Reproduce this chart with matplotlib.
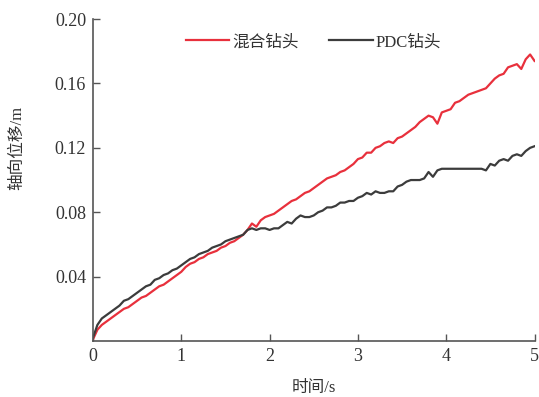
import matplotlib

matplotlib.use("Agg")
import matplotlib.pyplot as plt
import numpy as np


# Axial displacement (m), read every 0.05 s from the reference
TIME_STEP = 0.05
HYBRID_DISP = [
    0.001, 0.007, 0.010, 0.012, 0.014, 0.016, 0.018, 0.020, 0.021, 0.023,
    0.025, 0.027, 0.028, 0.030, 0.032, 0.034, 0.035, 0.037, 0.039, 0.041,
    0.043, 0.046, 0.048, 0.049, 0.051, 0.052, 0.054, 0.055, 0.056, 0.058,
    0.059, 0.061, 0.062, 0.064, 0.066, 0.069, 0.073, 0.071, 0.075, 0.077,
    0.078, 0.079, 0.081, 0.083, 0.085, 0.087, 0.088, 0.090, 0.092, 0.093,
    0.095, 0.097, 0.099, 0.101, 0.102, 0.103, 0.105, 0.106, 0.108, 0.110,
    0.113, 0.114, 0.117, 0.117, 0.120, 0.121, 0.123, 0.124, 0.123, 0.126,
    0.127, 0.129, 0.131, 0.133, 0.136, 0.138, 0.140, 0.139, 0.135, 0.142,
    0.143, 0.144, 0.148, 0.149, 0.151, 0.153, 0.154, 0.155, 0.156, 0.157,
    0.160, 0.163, 0.165, 0.166, 0.170, 0.171, 0.172, 0.169, 0.175, 0.178,
    0.174,
]
PDC_DISP = [
    0.002, 0.010, 0.014, 0.016, 0.018, 0.020, 0.022, 0.025, 0.026, 0.028,
    0.030, 0.032, 0.034, 0.035, 0.038, 0.039, 0.041, 0.042, 0.044, 0.045,
    0.047, 0.049, 0.051, 0.052, 0.054, 0.055, 0.056, 0.058, 0.059, 0.060,
    0.062, 0.063, 0.064, 0.065, 0.066, 0.069, 0.070, 0.069, 0.070, 0.070,
    0.069, 0.070, 0.070, 0.072, 0.074, 0.073, 0.076, 0.078, 0.077, 0.077,
    0.078, 0.080, 0.081, 0.083, 0.083, 0.084, 0.086, 0.086, 0.087, 0.087,
    0.089, 0.090, 0.092, 0.091, 0.093, 0.092, 0.092, 0.093, 0.093, 0.096,
    0.097, 0.099, 0.100, 0.100, 0.100, 0.101, 0.105, 0.102, 0.106, 0.107,
    0.107, 0.107, 0.107, 0.107, 0.107, 0.107, 0.107, 0.107, 0.107, 0.106,
    0.110, 0.109, 0.112, 0.113, 0.112, 0.115, 0.116, 0.115, 0.118, 0.120,
    0.121,
]
SERIES_LABELS = ["混合钻头", "PDC钻头"]
SERIES_COLORS = ["#e8303c", "#3c3c3c"]

X_TICKS = [0, 1, 2, 3, 4, 5]
Y_TICKS = [0.04, 0.08, 0.12, 0.16, 0.20]

plt.rcParams["font.family"] = ["Liberation Serif", "Noto Sans CJK SC"]
plt.rcParams["font.size"] = 12

fig = plt.figure(figsize=(5.39, 3.97), dpi=100)
ax = fig.add_axes([0.1725, 0.141, 0.8192, 0.811])

time = np.arange(len(HYBRID_DISP)) * TIME_STEP
for values, label, color in zip([HYBRID_DISP, PDC_DISP], SERIES_LABELS, SERIES_COLORS):
    ax.plot(time[: len(values)], values, color=color, lw=1.6, label=label)

ax.set_xlim(0, 5)
ax.set_ylim(0, 0.20)
ax.set_xticks(X_TICKS)
ax.set_yticks(Y_TICKS)
ax.set_xticklabels([str(t) for t in X_TICKS])
ax.set_yticklabels([f"{v:.2f}" for v in Y_TICKS])

for side in ["top", "right"]:
    ax.spines[side].set_visible(False)
for side in ["left", "bottom"]:
    ax.spines[side].set_color("#555555")
    ax.spines[side].set_linewidth(1.2)

ax.tick_params(direction="in", length=5, width=1, color="#555555",
               labelcolor="#333333", labelsize=13)
ax.tick_params(axis="x", pad=5)
ax.tick_params(axis="y", pad=5)

ax.set_xlabel("时间/s", color="#333333", fontsize=12, labelpad=11)
ax.set_ylabel("轴向位移/m", color="#333333", fontsize=12)
ax.yaxis.set_label_coords(-0.154, 0.60)

ax.legend(loc="upper center", bbox_to_anchor=(0.5, 1.0), ncol=2,
          frameon=False, fontsize=12, handlelength=2.6, handletextpad=0.2,
          columnspacing=1.8, labelcolor="#333333")

fig.savefig("out.png", dpi=100)
